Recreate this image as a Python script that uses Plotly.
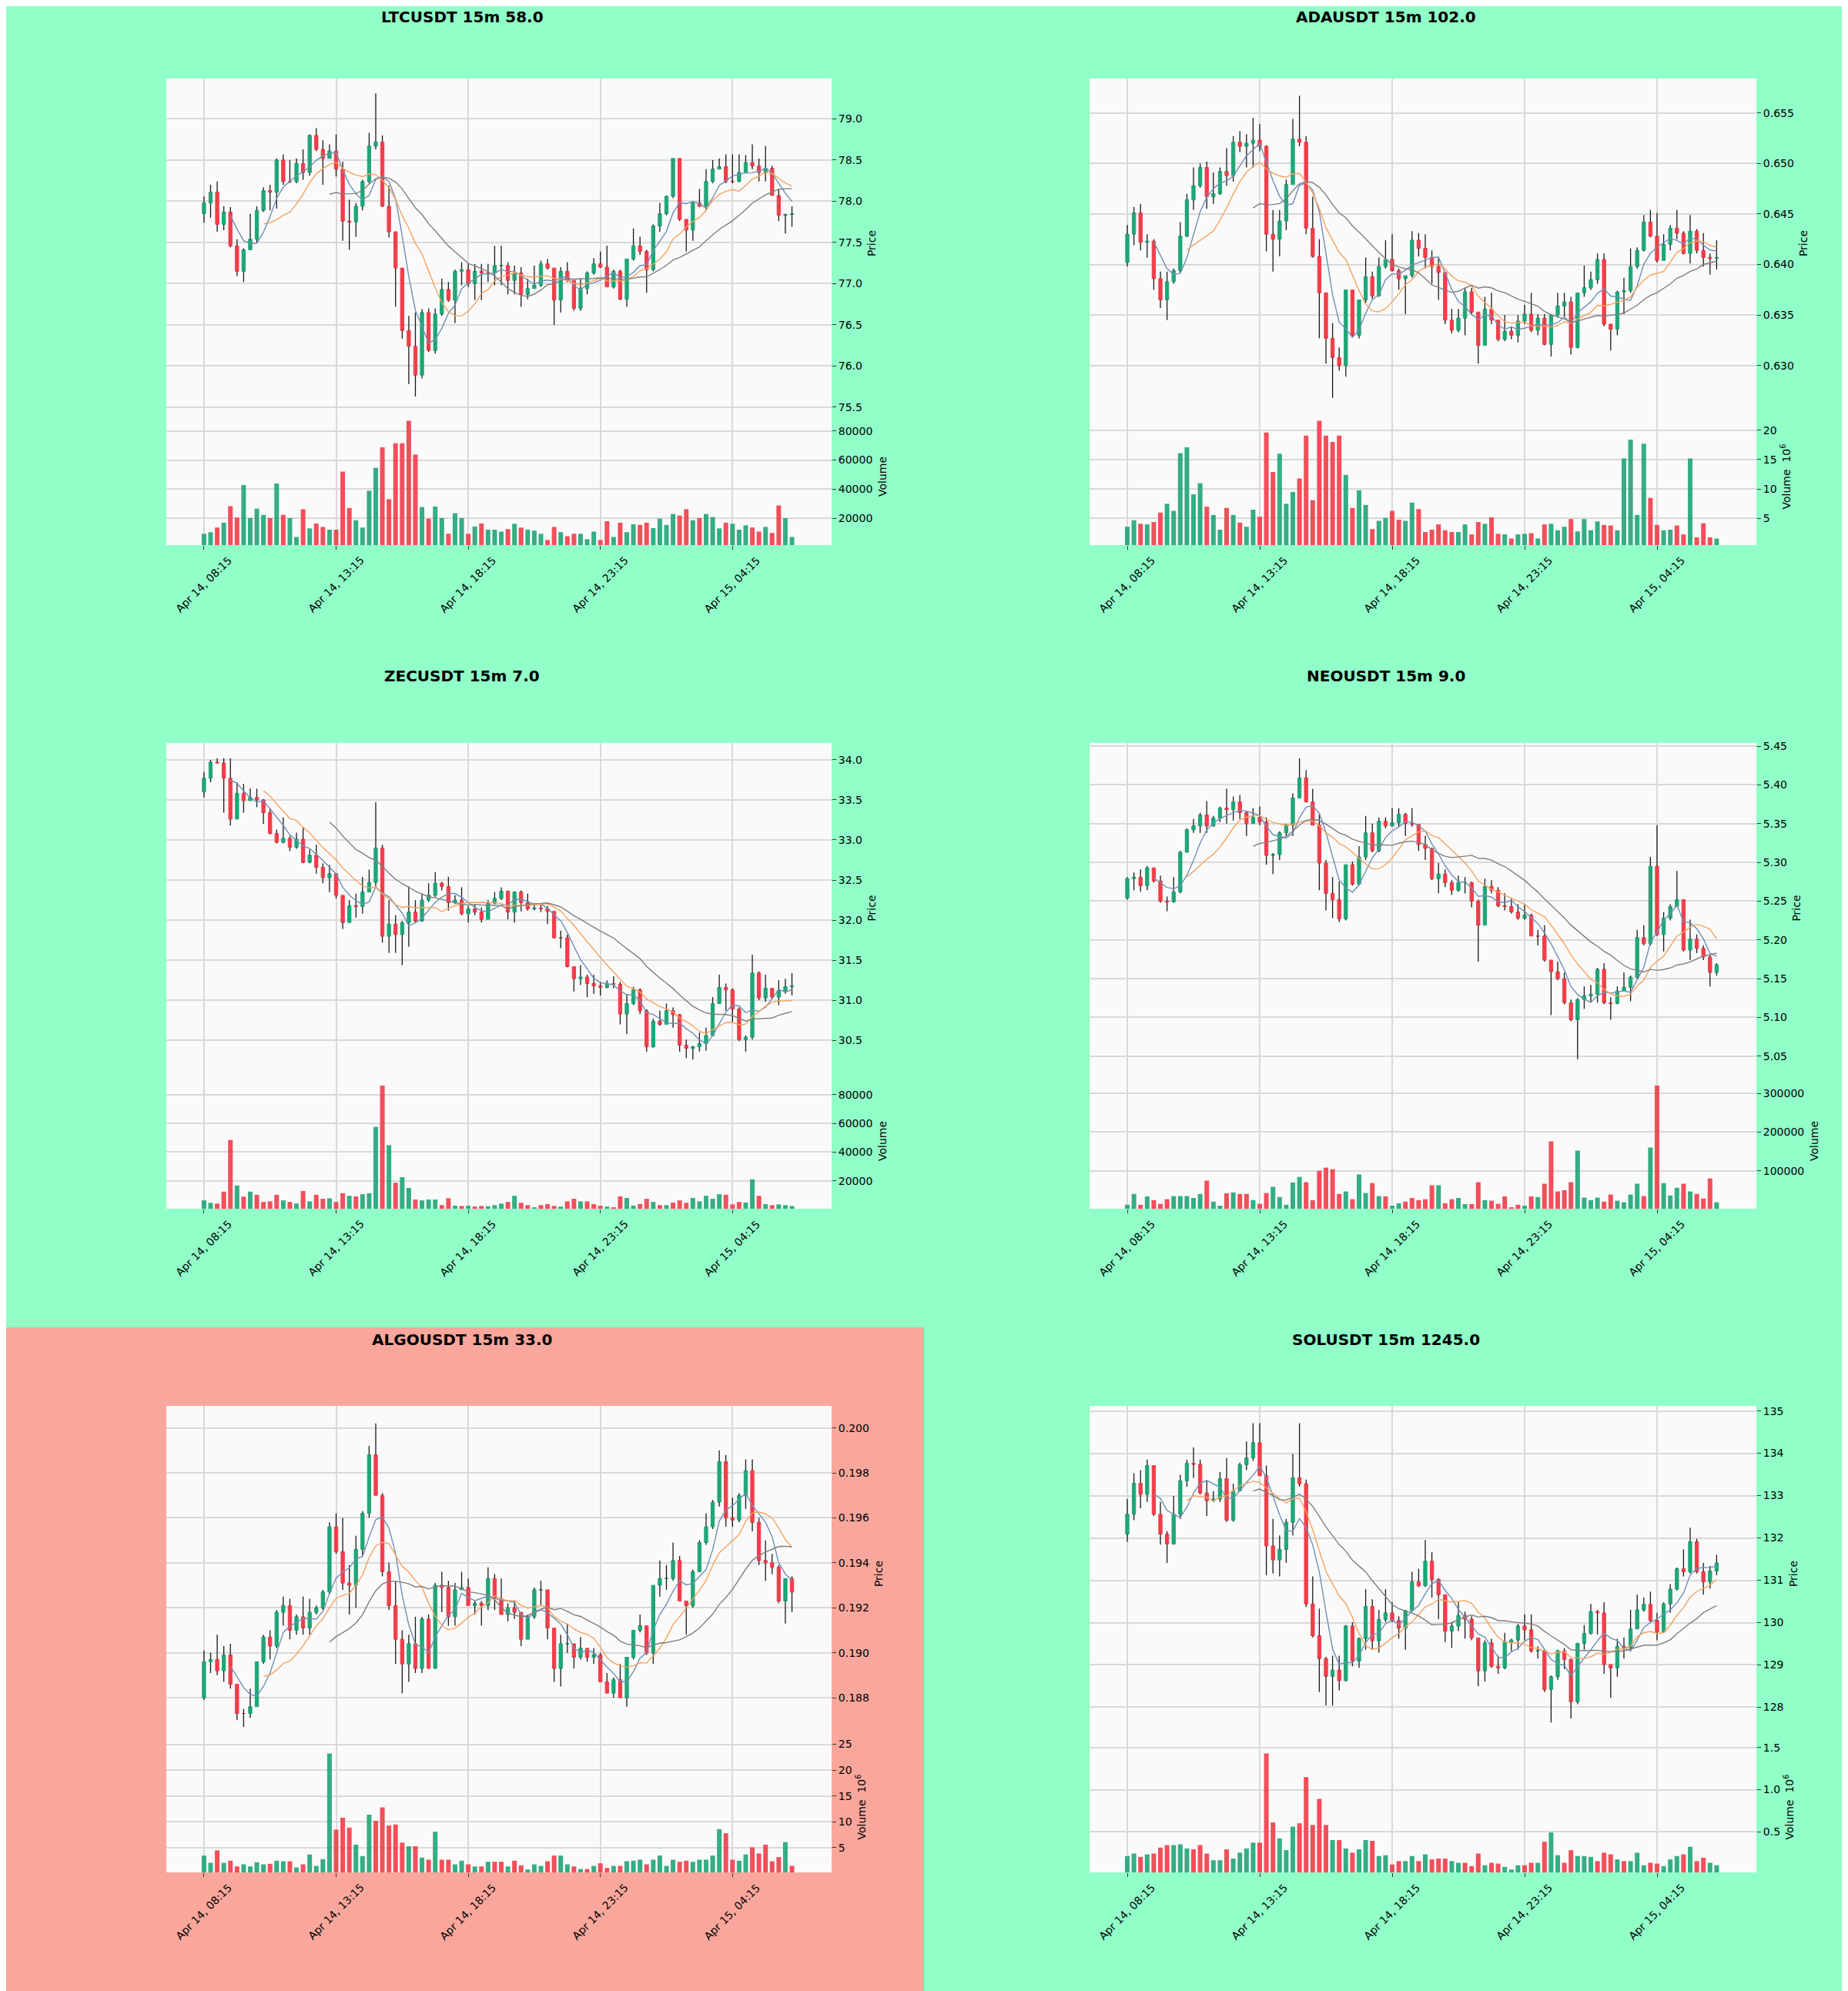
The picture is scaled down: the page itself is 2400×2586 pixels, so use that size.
import plotly.graph_objects as go
import pandas as pd

W, H = 2400, 2586
tick_idx = [0, 20, 40, 60, 80]
tick_labels = ["Apr 14, 08:15", "Apr 14, 13:15", "Apr 14, 18:15", "Apr 14, 23:15", "Apr 15, 04:15"]

# ---------------- LTCUSDT ----------------
ltc_open0 = 77.85
ltc_close = [77.98,78.11,77.72,77.87,77.46,77.15,77.41,77.54,77.89,78.13,
             78.11,78.50,78.24,78.24,78.46,78.35,78.80,78.63,78.52,78.61,
             78.39,77.76,77.75,77.94,78.24,78.67,78.72,77.94,77.63,77.19,
             76.43,76.24,75.89,76.65,76.19,76.63,76.93,76.80,77.15,77.17,
             77.00,77.15,77.13,77.13,77.22,77.22,77.04,77.13,76.87,76.94,
             76.98,77.24,77.19,76.80,77.15,77.04,76.70,76.94,77.13,77.24,
             77.20,76.96,77.15,76.81,77.30,77.46,77.39,77.17,77.70,77.85,
             78.06,78.52,77.78,77.65,77.98,77.94,78.24,78.39,78.42,78.24,
             78.24,78.35,78.47,78.43,78.35,78.40,78.07,77.83,77.84,77.85]
ltc_high = [78.06,78.20,78.24,77.94,77.93,77.54,77.43,77.85,77.94,78.17,
            78.20,78.52,78.57,78.50,78.52,78.63,78.81,78.89,78.74,78.69,
            78.81,78.48,78.02,77.98,78.26,78.83,79.31,78.80,78.19,77.61,
            77.19,76.61,76.65,76.69,76.70,76.70,77.06,77.02,77.17,77.26,
            77.24,77.24,77.24,77.24,77.46,77.46,77.26,77.22,77.20,77.06,
            77.22,77.28,77.30,77.19,77.20,77.26,77.04,77.06,77.15,77.31,
            77.39,77.46,77.17,77.17,77.30,77.67,77.57,77.41,77.72,77.98,
            78.07,78.52,78.52,77.78,78.00,78.15,78.39,78.50,78.52,78.57,
            78.57,78.57,78.56,78.69,78.52,78.67,78.43,78.15,77.85,77.94]
ltc_low = [77.74,77.80,77.63,77.65,77.44,77.09,77.02,77.43,77.50,77.87,
           77.89,77.91,78.20,78.22,78.22,78.26,78.31,78.61,78.20,78.52,
           78.30,77.52,77.41,77.57,77.89,78.22,78.63,77.93,77.56,76.72,
           76.33,75.78,75.63,75.85,76.17,76.15,76.61,76.78,76.52,76.98,
           76.96,76.80,76.80,77.02,76.98,76.98,76.87,76.87,76.72,76.81,
           76.96,76.96,77.17,76.50,76.65,77.02,76.67,76.67,76.87,77.11,
           77.19,76.96,76.94,76.80,76.72,77.28,77.35,76.89,77.15,77.63,
           77.83,78.04,77.76,77.39,77.52,77.93,77.89,78.22,78.39,78.22,
           78.22,78.23,78.35,78.39,78.24,78.24,78.07,77.76,77.61,77.69]
ltc_volume = [9300,10400,13600,16900,28300,20500,42800,20100,26600,22300,
              20100,43900,22300,20100,7100,26200,13000,16400,14000,12100,
              12100,52100,27000,18600,13600,38900,54700,68800,33100,71600,
              71600,87100,63800,27700,19700,28100,20100,9300,23400,20100,
              9300,14300,16400,12100,12100,10800,12500,16200,13600,12100,
              11500,9300,5000,14000,10400,7600,9300,9300,5600,10800,
              5000,17900,7100,16900,10400,15800,15400,16900,13200,19700,
              15400,22900,21800,26200,18600,20100,22900,20800,13000,16900,
              16200,12100,15100,13600,10800,14000,9900,28800,20100,7100]

# ---------------- ADAUSDT ----------------
ada_open0 = 0.6402
ada_close = [0.6430,0.6451,0.6422,0.6423,0.6386,0.6365,0.6383,0.6394,0.6428,0.6464,
             0.6478,0.6496,0.6467,0.6470,0.6492,0.6488,0.6521,0.6517,0.6520,0.6523,
             0.6517,0.6430,0.6425,0.6443,0.6479,0.6524,0.6521,0.6436,0.6408,0.6372,
             0.6327,0.6308,0.6300,0.6375,0.6330,0.6365,0.6388,0.6369,0.6398,0.6405,
             0.6394,0.6386,0.6389,0.6424,0.6416,0.6407,0.6398,0.6392,0.6345,0.6335,
             0.6347,0.6373,0.6353,0.6320,0.6356,0.6345,0.6326,0.6334,0.6330,0.6344,
             0.6351,0.6335,0.6347,0.6321,0.6350,0.6359,0.6363,0.6318,0.6372,0.6377,
             0.6385,0.6405,0.6341,0.6336,0.6373,0.6374,0.6398,0.6414,0.6442,0.6428,
             0.6404,0.6420,0.6436,0.6431,0.6411,0.6433,0.6414,0.6407,0.6406,0.6407]
ada_high = [0.6439,0.6457,0.6460,0.6430,0.6425,0.6393,0.6393,0.6396,0.6442,0.6470,
            0.6496,0.6500,0.6502,0.6491,0.6496,0.6515,0.6527,0.6532,0.6529,0.6545,
            0.6539,0.6518,0.6454,0.6454,0.6484,0.6544,0.6567,0.6527,0.6467,0.6425,
            0.6372,0.6342,0.6318,0.6375,0.6375,0.6365,0.6407,0.6393,0.6407,0.6424,
            0.6430,0.6396,0.6389,0.6433,0.6431,0.6430,0.6414,0.6407,0.6393,0.6356,
            0.6356,0.6377,0.6377,0.6351,0.6368,0.6372,0.6345,0.6350,0.6339,0.6350,
            0.6360,0.6372,0.6351,0.6351,0.6351,0.6372,0.6372,0.6368,0.6372,0.6399,
            0.6393,0.6411,0.6411,0.6341,0.6374,0.6387,0.6416,0.6417,0.6449,0.6454,
            0.6451,0.6430,0.6439,0.6454,0.6433,0.6449,0.6435,0.6431,0.6411,0.6424]
ada_low = [0.6398,0.6419,0.6414,0.6407,0.6375,0.6357,0.6345,0.6381,0.6392,0.6427,
           0.6454,0.6476,0.6455,0.6460,0.6469,0.6478,0.6482,0.6511,0.6496,0.6496,
           0.6512,0.6413,0.6393,0.6408,0.6434,0.6479,0.6517,0.6430,0.6407,0.6327,
           0.6302,0.6268,0.6295,0.6289,0.6329,0.6327,0.6362,0.6366,0.6368,0.6396,
           0.6393,0.6375,0.6351,0.6387,0.6408,0.6396,0.6381,0.6365,0.6341,0.6332,
           0.6333,0.6330,0.6351,0.6302,0.6320,0.6341,0.6324,0.6324,0.6326,0.6323,
           0.6341,0.6333,0.6330,0.6320,0.6309,0.6348,0.6348,0.6311,0.6317,0.6368,
           0.6375,0.6381,0.6339,0.6315,0.6330,0.6351,0.6372,0.6396,0.6413,0.6427,
           0.6402,0.6405,0.6414,0.6425,0.6410,0.6401,0.6411,0.6398,0.6390,0.6395]
ada_volume_m = [3.6,4.7,4.1,4.0,4.4,6.0,7.5,6.3,16.1,17.1,
                9.1,11.0,7.0,5.6,3.1,6.8,5.6,4.3,3.6,6.5,
                5.3,19.6,12.9,16.0,7.5,9.5,11.8,19.1,8.1,21.6,
                19.1,18.0,19.1,12.4,6.8,9.8,7.3,3.2,4.6,5.1,
                6.3,4.8,4.6,7.7,6.6,2.7,3.1,4.0,3.0,2.7,
                2.7,4.0,2.3,4.4,4.1,5.2,2.4,2.3,1.6,2.3,
                2.4,2.5,1.6,4.0,4.1,3.0,3.6,4.9,2.8,4.9,
                3.0,4.5,3.9,3.8,3.0,15.2,18.4,5.6,17.7,8.5,
                3.9,3.0,3.1,3.8,2.3,15.2,1.8,4.2,1.8,1.6]

# ---------------- ZECUSDT ----------------
zec_open0 = 33.60
zec_close = [33.77,33.97,33.96,33.77,33.26,33.58,33.49,33.53,33.50,33.34,
             33.08,32.97,33.02,32.91,33.01,32.72,32.81,32.66,32.53,32.58,
             32.31,31.97,32.18,32.17,32.35,32.47,32.90,31.80,31.95,31.82,
             31.97,32.10,31.99,32.25,32.31,32.46,32.42,32.22,32.25,32.08,
             32.14,32.10,32.01,32.21,32.27,32.36,32.10,32.35,32.22,32.14,
             32.15,32.14,32.11,31.78,31.78,31.42,31.27,31.29,31.21,31.18,
             31.16,31.21,31.20,30.83,30.96,31.13,30.87,30.42,30.74,30.70,
             30.87,30.82,30.44,30.40,30.42,30.46,30.56,30.96,31.16,31.13,
             30.89,30.51,30.54,31.34,31.03,31.15,31.04,31.12,31.17,31.18]
zec_high = [33.85,34.00,34.02,34.02,34.02,33.72,33.70,33.64,33.64,33.51,
            33.39,33.13,33.28,33.05,33.09,33.16,32.88,32.94,32.71,32.69,
            32.58,32.31,32.25,32.33,32.54,32.63,33.47,32.94,32.25,32.06,
            31.99,32.42,32.25,32.33,32.46,32.60,32.48,32.54,32.31,32.41,
            32.18,32.20,32.16,32.25,32.35,32.41,32.37,32.36,32.37,32.33,
            32.20,32.20,32.18,32.10,31.87,31.82,31.42,31.44,31.32,31.32,
            31.23,31.25,31.30,31.23,31.08,31.17,31.15,30.89,30.77,30.87,
            30.96,30.91,30.83,30.51,30.43,30.60,30.66,31.04,31.32,31.21,
            31.15,30.91,30.56,31.57,31.36,31.32,31.15,31.25,31.27,31.34]
zec_low = [33.53,33.72,33.96,33.34,33.18,33.26,33.34,33.49,33.41,33.20,
           33.07,32.96,32.96,32.86,32.89,32.71,32.71,32.58,32.46,32.35,
           32.27,31.89,31.97,32.03,32.08,32.37,32.42,31.72,31.59,31.59,
           31.44,31.67,31.97,31.98,32.23,32.29,32.37,32.12,32.20,32.06,
           31.97,32.06,31.97,32.01,32.20,32.25,32.01,31.97,32.11,32.12,
           32.12,32.10,31.95,31.77,31.65,31.41,31.11,31.19,31.04,31.08,
           31.06,31.15,31.15,30.70,30.58,30.94,30.83,30.36,30.41,30.68,
           30.70,30.66,30.36,30.28,30.26,30.36,30.37,30.55,30.96,30.87,
           30.73,30.49,30.36,30.51,31.00,30.98,31.02,30.94,31.08,31.06]
zec_volume = [6300,4600,4100,12400,48500,16700,8900,12400,10200,5200,
              5600,10200,6300,5200,4100,12800,5600,10200,7400,7800,
              5200,11300,9500,9100,10600,11300,57600,86400,44800,18600,
              22500,15000,6900,6300,6900,6900,3000,7800,2600,2400,
              2600,2000,2400,2200,3000,4100,5200,9500,4600,3000,
              1500,3000,3700,2400,2000,5600,7400,5600,5600,3700,
              2600,2000,1500,9100,8000,2600,3700,7400,5200,3000,
              3000,4800,6300,4600,8000,5600,9500,7400,10600,10200,
              3500,5200,4800,21000,9500,3700,3000,3500,3000,2400]

# ---------------- NEOUSDT ----------------
neo_open0 = 5.254
neo_close = [5.279,5.281,5.270,5.293,5.276,5.250,5.249,5.262,5.313,5.342,
             5.347,5.361,5.347,5.357,5.370,5.368,5.378,5.364,5.350,5.358,
             5.352,5.309,5.310,5.338,5.348,5.383,5.409,5.378,5.348,5.299,
             5.260,5.252,5.227,5.297,5.272,5.307,5.338,5.315,5.353,5.347,
             5.351,5.362,5.350,5.349,5.323,5.318,5.279,5.285,5.274,5.264,
             5.274,5.274,5.250,5.219,5.269,5.264,5.244,5.243,5.236,5.228,
             5.232,5.205,5.205,5.174,5.159,5.150,5.119,5.097,5.123,5.128,
             5.130,5.162,5.119,5.118,5.134,5.139,5.152,5.203,5.195,5.295,
             5.207,5.228,5.243,5.252,5.187,5.201,5.189,5.178,5.158,5.168]
neo_high = [5.281,5.287,5.291,5.295,5.293,5.283,5.256,5.281,5.315,5.344,
            5.356,5.364,5.379,5.360,5.372,5.395,5.385,5.387,5.366,5.370,
            5.372,5.358,5.312,5.340,5.350,5.389,5.434,5.419,5.395,5.362,
            5.303,5.281,5.275,5.297,5.301,5.321,5.360,5.350,5.358,5.358,
            5.370,5.370,5.364,5.370,5.346,5.334,5.319,5.299,5.291,5.277,
            5.283,5.281,5.275,5.252,5.279,5.277,5.268,5.260,5.254,5.246,
            5.246,5.234,5.213,5.219,5.174,5.172,5.158,5.123,5.125,5.140,
            5.142,5.164,5.170,5.126,5.140,5.158,5.154,5.213,5.219,5.307,
            5.348,5.236,5.246,5.289,5.252,5.226,5.207,5.193,5.181,5.170]
neo_low = [5.252,5.264,5.262,5.264,5.274,5.248,5.237,5.248,5.260,5.313,
           5.338,5.338,5.338,5.346,5.352,5.350,5.354,5.356,5.334,5.350,
           5.348,5.297,5.285,5.303,5.334,5.334,5.383,5.377,5.348,5.264,
           5.238,5.228,5.223,5.225,5.270,5.270,5.303,5.313,5.313,5.344,
           5.346,5.346,5.334,5.346,5.315,5.303,5.277,5.260,5.268,5.258,
           5.262,5.260,5.242,5.172,5.219,5.260,5.242,5.238,5.234,5.226,
           5.226,5.205,5.193,5.172,5.103,5.148,5.117,5.095,5.046,5.111,
           5.119,5.119,5.117,5.097,5.117,5.134,5.121,5.150,5.193,5.193,
           5.205,5.185,5.225,5.244,5.185,5.174,5.183,5.174,5.140,5.154]
neo_volume = [12000,40000,12000,33600,24000,14400,26400,34400,34400,34400,
              29600,40000,74400,20000,9600,41600,44000,40000,40000,24000,
              14400,42400,58400,32000,12000,69600,84000,70400,24000,100000,
              108000,104000,40000,46400,26400,90400,42400,68000,34400,33600,
              9600,16000,20000,29600,24000,26400,62400,62400,16000,26400,
              29600,13600,13600,70400,24000,22400,14400,33600,5600,12000,
              9600,33600,32000,66400,176000,46400,49600,70400,152000,30400,
              24000,30400,20000,38400,22400,18400,38400,66400,34400,160000,
              320000,68000,36000,56000,66400,46400,40000,28000,80000,18400]

# ---------------- ALGOUSDT ----------------
algo_open0 = 0.1880
algo_close = [0.1896,0.1897,0.1892,0.1899,0.1886,0.1873,0.1873,0.1876,0.1896,0.1907,
              0.1903,0.1918,0.1921,0.1910,0.1916,0.1911,0.1918,0.1920,0.1927,0.1956,
              0.1945,0.1931,0.1930,0.1946,0.1962,0.1988,0.1970,0.1936,0.1921,0.1906,
              0.1895,0.1904,0.1893,0.1915,0.1893,0.1930,0.1929,0.1916,0.1928,0.1929,
              0.1921,0.1922,0.1921,0.1933,0.1924,0.1917,0.1920,0.1918,0.1906,0.1916,
              0.1928,0.1928,0.1911,0.1893,0.1904,0.1904,0.1898,0.1902,0.1898,0.1899,
              0.1887,0.1882,0.1888,0.1880,0.1898,0.1910,0.1912,0.1900,0.1930,0.1933,
              0.1933,0.1941,0.1923,0.1921,0.1936,0.1949,0.1956,0.1967,0.1985,0.1960,
              0.1959,0.1970,0.1981,0.1958,0.1941,0.1940,0.1938,0.1923,0.1933,0.1927]
algo_high = [0.1901,0.1900,0.1908,0.1903,0.1904,0.1886,0.1875,0.1884,0.1896,0.1908,
             0.1910,0.1919,0.1925,0.1924,0.1917,0.1925,0.1924,0.1921,0.1928,0.1958,
             0.1962,0.1960,0.1939,0.1952,0.1963,0.1992,0.2002,0.1971,0.1940,0.1932,
             0.1910,0.1908,0.1916,0.1916,0.1917,0.1931,0.1936,0.1932,0.1931,0.1936,
             0.1933,0.1923,0.1923,0.1938,0.1935,0.1933,0.1922,0.1923,0.1917,0.1917,
             0.1929,0.1932,0.1928,0.1910,0.1908,0.1913,0.1904,0.1907,0.1902,0.1902,
             0.1900,0.1891,0.1889,0.1895,0.1898,0.1910,0.1917,0.1911,0.1930,0.1941,
             0.1939,0.1949,0.1943,0.1923,0.1937,0.1950,0.1962,0.1968,0.1990,0.1988,
             0.1969,0.1971,0.1986,0.1986,0.1960,0.1950,0.1944,0.1939,0.1933,0.1934]
algo_low = [0.1879,0.1891,0.1890,0.1887,0.1884,0.1870,0.1867,0.1871,0.1876,0.1895,
            0.1897,0.1902,0.1912,0.1906,0.1908,0.1908,0.1908,0.1917,0.1919,0.1926,
            0.1944,0.1928,0.1917,0.1920,0.1943,0.1960,0.1970,0.1934,0.1919,0.1895,
            0.1882,0.1887,0.1891,0.1891,0.1893,0.1893,0.1918,0.1912,0.1912,0.1928,
            0.1921,0.1917,0.1912,0.1919,0.1919,0.1918,0.1914,0.1915,0.1903,0.1906,
            0.1915,0.1921,0.1906,0.1887,0.1885,0.1900,0.1893,0.1897,0.1896,0.1895,
            0.1887,0.1882,0.1880,0.1880,0.1876,0.1897,0.1909,0.1899,0.1895,0.1925,
            0.1928,0.1932,0.1923,0.1908,0.1920,0.1936,0.1948,0.1955,0.1965,0.1956,
            0.1956,0.1958,0.1964,0.1954,0.1939,0.1932,0.1935,0.1922,0.1913,0.1918]
algo_volume_m = [3.5,2.1,4.5,2.1,2.5,1.4,1.8,1.4,2.2,1.8,
                 1.9,2.5,2.4,2.4,1.2,1.8,3.7,1.5,2.8,23.2,
                 8.5,10.8,8.9,5.6,3.4,11.4,10.2,12.8,9.3,9.5,
                 6.0,5.3,5.3,3.1,2.7,8.1,2.7,2.7,1.8,2.5,
                 1.8,1.4,1.4,2.3,2.3,2.3,1.4,2.5,1.6,0.8,
                 1.8,1.5,2.4,3.5,3.5,1.8,1.4,0.9,0.9,1.5,
                 2.0,1.1,1.5,1.5,2.4,2.5,2.7,1.8,2.7,3.5,
                 1.5,2.7,2.3,2.5,2.3,2.7,2.7,3.5,8.6,7.8,
                 2.7,2.5,3.7,5.1,3.9,5.6,2.4,3.2,6.1,1.5]

# ---------------- SOLUSDT ----------------
sol_open0 = 132.09
sol_close = [132.56,133.29,133.03,133.71,132.56,132.09,131.86,132.56,133.35,133.76,
             133.74,133.06,132.88,132.92,133.40,132.42,133.11,133.73,133.89,134.25,
             133.47,131.81,131.48,131.73,132.37,133.42,133.28,130.44,129.69,129.15,
             128.73,128.88,128.63,129.92,129.09,129.62,130.38,129.57,130.07,130.23,
             130.05,129.87,130.28,130.96,130.87,131.45,131.02,130.66,129.80,129.92,
             130.17,130.08,129.64,128.86,129.52,128.97,128.93,129.54,129.59,129.92,
             129.83,129.33,129.34,128.42,128.72,129.33,129.13,128.13,129.51,129.74,
             130.26,130.23,129.01,128.93,129.44,129.40,129.85,130.30,130.43,130.05,
             129.78,130.44,130.79,131.27,131.20,131.91,131.20,130.96,131.22,131.41]
sol_high = [132.92,133.53,133.60,133.85,133.71,132.85,132.16,132.99,133.49,133.85,
            134.14,133.85,133.35,133.10,133.56,133.89,133.28,133.78,134.28,134.71,
            134.71,133.71,132.45,132.06,132.45,133.99,134.71,133.38,131.09,130.33,
            129.19,129.22,129.22,129.94,130.01,129.65,130.79,130.55,130.30,130.79,
            130.48,130.15,130.30,131.20,131.27,131.95,131.66,131.05,130.66,130.01,
            130.48,130.26,130.15,129.64,129.58,129.62,129.22,129.76,129.62,129.97,
            130.19,130.19,129.44,129.36,128.75,129.36,129.40,129.15,129.52,129.94,
            130.44,130.30,130.48,129.01,129.62,129.65,130.30,130.66,130.59,130.73,
            130.23,130.48,130.91,131.30,131.73,132.24,131.98,131.41,131.34,131.60]
sol_low = [131.91,132.42,132.70,132.85,132.52,131.84,131.41,131.84,132.45,133.21,
           133.42,133.03,132.52,132.85,132.85,132.38,132.38,133.10,133.60,133.82,
           133.46,131.12,131.16,131.09,131.41,132.06,133.21,130.37,129.65,128.36,
           128.04,128.04,128.40,128.61,128.97,128.93,129.36,129.36,129.29,130.01,
           130.01,129.62,129.36,130.30,130.84,130.84,130.59,130.08,129.54,129.40,
           129.80,129.62,129.58,128.50,128.61,128.93,128.79,128.90,129.33,129.36,
           129.58,129.29,129.15,128.36,127.64,128.65,128.90,127.73,128.07,129.36,
           129.72,129.72,128.79,128.22,128.72,129.15,129.36,129.87,130.26,130.01,
           129.58,129.76,130.23,130.76,131.09,131.16,131.16,130.66,130.80,131.12]
sol_volume_m = [0.21,0.24,0.20,0.23,0.24,0.31,0.34,0.34,0.35,0.30,
                0.29,0.34,0.24,0.16,0.16,0.29,0.18,0.25,0.30,0.37,
                0.37,1.43,0.61,0.42,0.28,0.56,0.60,1.15,0.58,0.89,
                0.58,0.40,0.40,0.30,0.25,0.29,0.40,0.39,0.21,0.22,
                0.11,0.15,0.15,0.21,0.15,0.23,0.17,0.18,0.18,0.15,
                0.13,0.13,0.09,0.24,0.10,0.13,0.12,0.08,0.05,0.10,
                0.10,0.13,0.13,0.38,0.49,0.22,0.13,0.28,0.21,0.21,
                0.20,0.15,0.25,0.23,0.17,0.15,0.15,0.25,0.10,0.13,
                0.12,0.09,0.17,0.21,0.23,0.32,0.15,0.19,0.13,0.10]

ma_periods = [5, 10, 20]

# ---------------- style ----------------
MINT = "#90FFC8"
SALMON = "#F9A79C"
PLOT_BG = "#FAFAFA"
GRID = "#D9D9D9"
UP = "#1FA676"
DOWN = "#F23D4A"
MA_COLORS = ["#6F8FB8", "#F5A25D", "#7F7F7F"]
FONT = "DejaVu Sans"
TICK_SIZE = 14
OFF = 8  # the page renders the figure 8px in from the top-left corner

panels = [
    dict(title="LTCUSDT 15m 58.0", o0=ltc_open0, c=ltc_close, h=ltc_high, l=ltc_low, v=ltc_volume,
         yr=[75.49, 79.49], dt=0.5, fmt=".1f", vdt=20000, vfmt="d", vlabel="Volume"),
    dict(title="ADAUSDT 15m 102.0", o0=ada_open0, c=ada_close, h=ada_high, l=ada_low, v=ada_volume_m,
         yr=[0.6258, 0.6584], dt=0.005, fmt=".3f", vdt=5, vfmt="d", vlabel="Volume  10<sup>6</sup>"),
    dict(title="ZECUSDT 15m 7.0", o0=zec_open0, c=zec_close, h=zec_high, l=zec_low, v=zec_volume,
         yr=[30.09, 34.21], dt=0.5, fmt=".1f", vdt=20000, vfmt="d", vlabel="Volume"),
    dict(title="NEOUSDT 15m 9.0", o0=neo_open0, c=neo_close, h=neo_high, l=neo_low, v=neo_volume,
         yr=[5.028, 5.454], dt=0.05, fmt=".2f", vdt=100000, vfmt="d", vlabel="Volume"),
    dict(title="ALGOUSDT 15m 33.0", o0=algo_open0, c=algo_close, h=algo_high, l=algo_low, v=algo_volume_m,
         yr=[0.18605, 0.20098], dt=0.002, fmt=".3f", vdt=5, vfmt="d", vlabel="Volume  10<sup>6</sup>"),
    dict(title="SOLUSDT 15m 1245.0", o0=sol_open0, c=sol_close, h=sol_high, l=sol_low, v=sol_volume_m,
         yr=[127.19, 135.12], dt=1, fmt="d", vdt=0.5, vfmt=".1f", vlabel="Volume  10<sup>6</sup>"),
]

col_x = [(216, 1080), (1415, 2281)]
row_y = [(102, 530, 708), (965, 1394, 1570), (1826, 2262, 2432)]
title_y = [17, 878, 1740]
title_x = [600, 1800]


def px(x):
    return (x - OFF) / W


def py(y):
    return 1 - (y - OFF) / H


def ax_name(kind, n):
    return kind + ("axis" if n == 1 else "axis%d" % n)


def ax_ref(kind, n):
    return kind if n == 1 else "%s%d" % (kind, n)


fig = go.Figure()
layout = dict(width=W, height=H, margin=dict(l=0, r=0, t=0, b=0, pad=0, autoexpand=False),
              paper_bgcolor=MINT, plot_bgcolor="rgba(0,0,0,0)", showlegend=False,
              font=dict(family=FONT, size=TICK_SIZE, color="#000000"),
              boxgap=0.28)
shapes = [dict(type="rect", xref="paper", yref="paper", x0=0, x1=px(1200), y0=0, y1=py(1724),
               fillcolor=SALMON, line_width=0, layer="below")]
annotations = []

for k, p in enumerate(panels):
    r, cidx = k // 2, k % 2
    x0, x1 = col_x[cidx]
    yt, yb, yv = row_y[r]
    n_p, n_v = 2 * k + 1, 2 * k + 2
    xp, xv, yp, yvr = ax_ref("x", n_p), ax_ref("x", n_v), ax_ref("y", n_p), ax_ref("y", n_v)

    shapes.append(dict(type="rect", xref="paper", yref="paper", x0=px(x0), x1=px(x1),
                       y0=py(yv), y1=py(yt), fillcolor=PLOT_BG, line_width=0, layer="below"))

    closes = p["c"]
    opens = [p["o0"]] + closes[:-1]
    idx = list(range(len(closes)))
    body_hi = [max(o, c) for o, c in zip(opens, closes)]
    body_lo = [min(o, c) for o, c in zip(opens, closes)]
    colors = [UP if c >= o else DOWN for o, c in zip(opens, closes)]

    # wicks (drawn outside of the body)
    wx, wy = [], []
    for i in idx:
        hi = max(p["h"][i], body_hi[i])
        lo = min(p["l"][i], body_lo[i])
        wx += [i, i, None, i, i, None]
        wy += [body_hi[i], hi, None, lo, body_lo[i], None]
    fig.add_trace(go.Scatter(x=wx, y=wy, mode="lines", line=dict(color="#1a1a1a", width=1.3),
                             xaxis=xp, yaxis=yp, hoverinfo="skip"))

    fig.add_trace(go.Candlestick(x=idx, open=opens, high=body_hi, low=body_lo, close=closes,
                                 increasing=dict(fillcolor=UP, line=dict(color=UP, width=1)),
                                 decreasing=dict(fillcolor=DOWN, line=dict(color=DOWN, width=1)),
                                 whiskerwidth=0, xaxis=xp, yaxis=yp))

    s = pd.Series(closes)
    for per, col in zip(ma_periods, MA_COLORS):
        fig.add_trace(go.Scatter(x=idx, y=s.rolling(per).mean(), mode="lines",
                                 line=dict(color=col, width=1.4), xaxis=xp, yaxis=yp, hoverinfo="skip"))

    fig.add_trace(go.Bar(x=idx, y=p["v"], marker=dict(color=colors, line_width=0), width=0.7,
                         opacity=0.9, xaxis=xv, yaxis=yvr))

    common_x = dict(domain=[px(x0), px(x1)], range=[-5.7, 95.0], tickmode="array", tickvals=tick_idx,
                    showgrid=True, gridcolor=GRID, gridwidth=1.6, zeroline=False, showline=False,
                    showticklabels=False)
    layout[ax_name("x", n_p)] = dict(common_x, anchor=yp, ticks="",
                                     rangeslider=dict(visible=False), matches=xv)
    layout[ax_name("x", n_v)] = dict(common_x, anchor=yvr, ticks="outside", ticklen=5, tickcolor="#333")

    # rotated date labels, centred under their ticks
    for ti, tl in zip(tick_idx, tick_labels):
        annotations.append(dict(text=tl, xref=xv, yref="paper", x=ti, y=py(yv + 9),
                                xanchor="center", yanchor="top", textangle=-45, showarrow=False,
                                font=dict(size=TICK_SIZE, family=FONT, color="#000000")))

    layout[ax_name("y", n_p)] = dict(domain=[py(yb), py(yt)], anchor=xp, side="right",
                                     range=p["yr"], dtick=p["dt"], tick0=0, tickformat=p["fmt"],
                                     ticks="outside", ticklen=5, tickcolor="#333",
                                     showgrid=True, gridcolor=GRID, gridwidth=1.6, zeroline=False,
                                     title=dict(text="Price", font=dict(size=TICK_SIZE), standoff=8),
                                     tickfont=dict(size=TICK_SIZE))
    vmin, vmax = min(p["v"]), max(p["v"])
    layout[ax_name("y", n_v)] = dict(domain=[py(yv), py(yb)], anchor=xv, side="right",
                                     range=[0.3 * vmin, 1.1 * vmax], dtick=p["vdt"], tick0=0,
                                     tickformat=p["vfmt"], ticks="outside", ticklen=5, tickcolor="#333",
                                     showgrid=True, gridcolor=GRID, gridwidth=1.6, zeroline=False,
                                     title=dict(text=p["vlabel"], font=dict(size=TICK_SIZE), standoff=8),
                                     tickfont=dict(size=TICK_SIZE))

    ty = py(title_y[r])
    if r == 0:
        ty = min(ty, 1.0)
    annotations.append(dict(text="<b>%s</b>" % p["title"], xref="paper", yref="paper",
                            x=px(title_x[cidx]), y=ty if r else 1.0,
                            xanchor="center", yanchor="middle" if r else "top",
                            showarrow=False, font=dict(size=20, family=FONT, color="#000000")))

layout["shapes"] = shapes
layout["annotations"] = annotations
fig.update_layout(**layout)
fig.write_html("out.html")
